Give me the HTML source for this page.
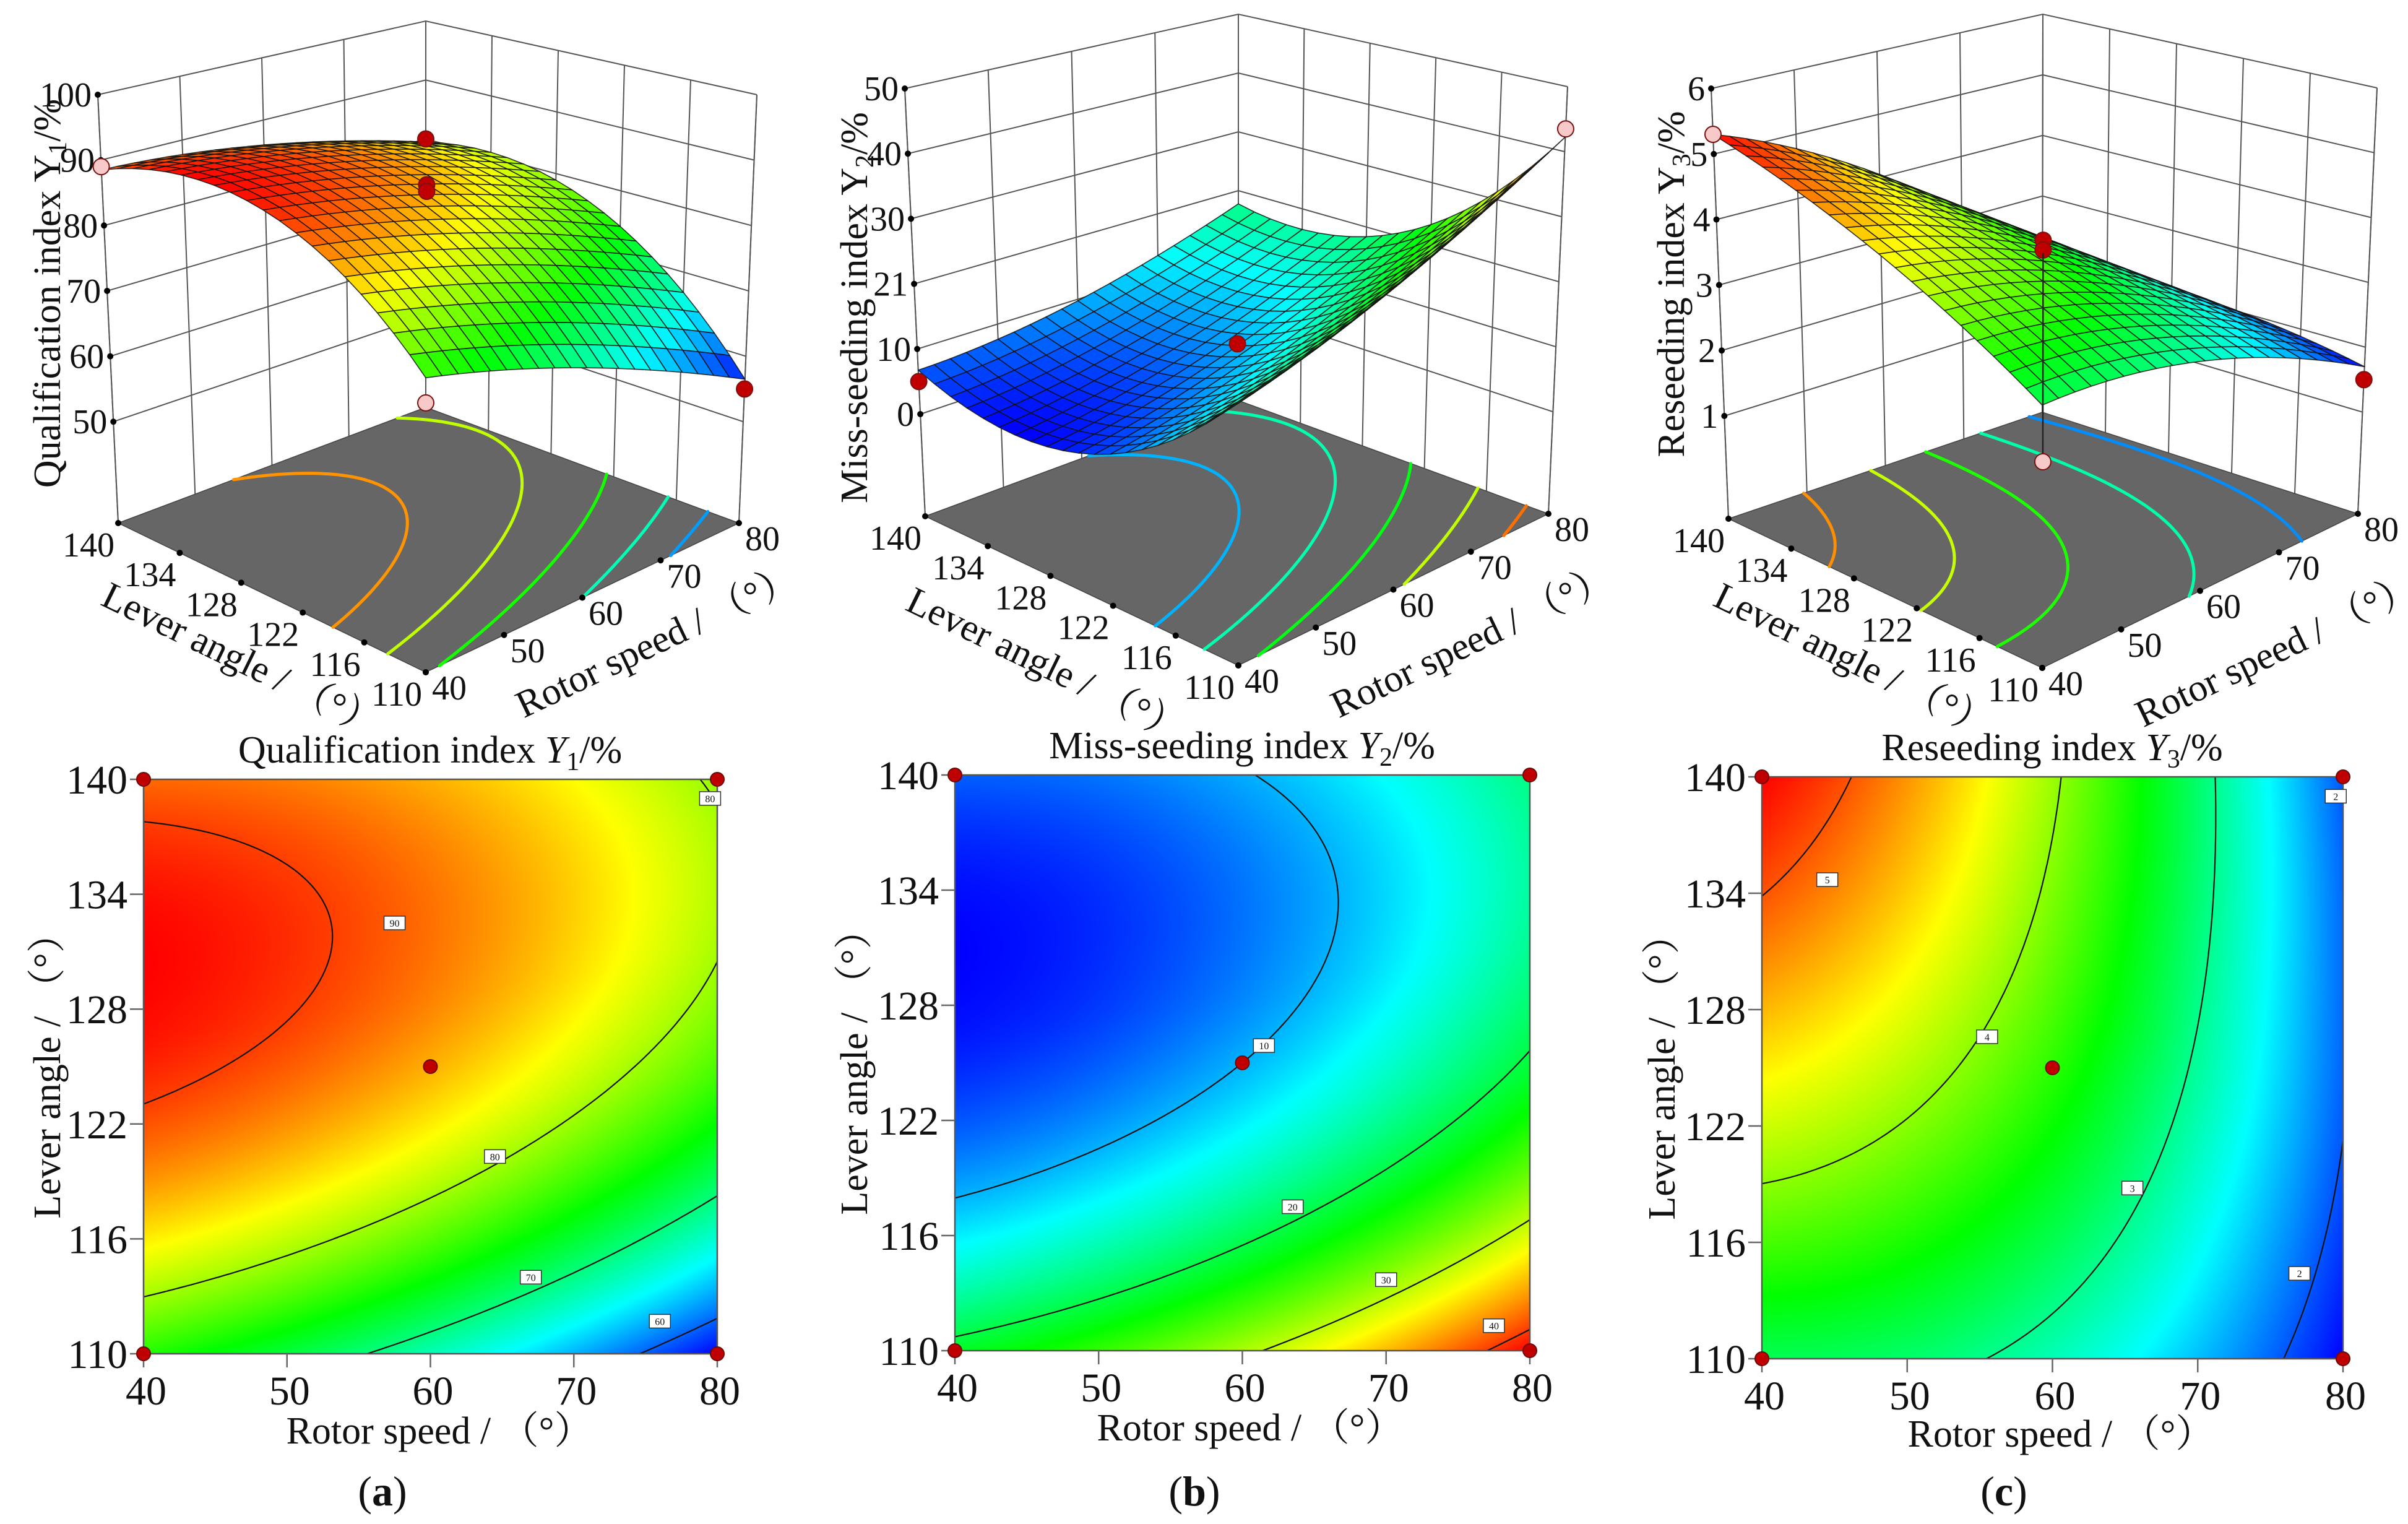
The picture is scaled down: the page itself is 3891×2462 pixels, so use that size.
<!DOCTYPE html>
<html><head><meta charset="utf-8">
<style>
html,body{margin:0;padding:0;background:#fff;}
#wrap{position:relative;width:3891px;height:2462px;overflow:hidden;background:#fff;}
canvas{position:absolute;}
svg{position:absolute;left:0;top:0;}
text{font-family:"Liberation Serif","Noto Serif CJK SC",serif;fill:#111;}
</style></head>
<body>
<div id="wrap">
<canvas id="cvA" style="left:232px;top:1259px;width:927px;height:928px" width="927" height="928"></canvas>
<canvas id="cvB" style="left:1543px;top:1252px;width:929px;height:930px" width="929" height="930"></canvas>
<canvas id="cvC" style="left:2847px;top:1255px;width:939px;height:940px" width="939" height="940"></canvas>
<svg id="fig" width="3891" height="2462" viewBox="0 0 3891 2462">
<g id="layer3d"></g>
<g id="layer2d"></g>
<g font-size="62">
<text x="695" y="1232" text-anchor="middle">Qualification index <tspan font-style="italic">Y</tspan><tspan font-size="42" dy="12">1</tspan><tspan dy="-12">/%</tspan></text>
<text x="2007" y="1225" text-anchor="middle">Miss-seeding index <tspan font-style="italic">Y</tspan><tspan font-size="42" dy="12">2</tspan><tspan dy="-12">/%</tspan></text>
<text x="3316" y="1228" text-anchor="middle">Reseeding index <tspan font-style="italic">Y</tspan><tspan font-size="42" dy="12">3</tspan><tspan dy="-12">/%</tspan></text>
<text x="710" y="2332" text-anchor="middle">Rotor speed / （°）</text>
<text x="2020" y="2327" text-anchor="middle">Rotor speed / （°）</text>
<text x="3330" y="2337" text-anchor="middle">Rotor speed / （°）</text>
<text transform="translate(97,1723) rotate(-90)" text-anchor="middle">Lever angle / （°）</text>
<text transform="translate(1401,1717) rotate(-90)" text-anchor="middle">Lever angle / （°）</text>
<text transform="translate(2706,1725) rotate(-90)" text-anchor="middle">Lever angle / （°）</text>
<text x="618" y="2432" text-anchor="middle" font-size="68">(<tspan font-weight="bold">a</tspan>)</text>
<text x="1930" y="2432" text-anchor="middle" font-size="68">(<tspan font-weight="bold">b</tspan>)</text>
<text x="3238" y="2432" text-anchor="middle" font-size="68">(<tspan font-weight="bold">c</tspan>)</text>
<text transform="translate(97,474) rotate(-90)" text-anchor="middle">Qualification index Y<tspan font-size="42" dy="10">1</tspan><tspan dy="-10">/%</tspan></text>
<text transform="translate(1401,497) rotate(-90)" text-anchor="middle">Miss-seeding index Y<tspan font-size="42" dy="10">2</tspan><tspan dy="-10">/%</tspan></text>
<text transform="translate(2721,459) rotate(-90)" text-anchor="middle">Reseeding index Y<tspan font-size="42" dy="10">3</tspan><tspan dy="-10">/%</tspan></text>
<text transform="translate(390,1066) rotate(26)" text-anchor="middle" dominant-baseline="central">Lever angle / （°）</text>
<text transform="translate(1061,1036) rotate(-25.5)" text-anchor="middle" dominant-baseline="central">Rotor speed / （°）</text>
<text transform="translate(1690,1074) rotate(26)" text-anchor="middle" dominant-baseline="central">Lever angle / （°）</text>
<text transform="translate(2378,1036) rotate(-25.5)" text-anchor="middle" dominant-baseline="central">Rotor speed / （°）</text>
<text transform="translate(2995,1067) rotate(26)" text-anchor="middle" dominant-baseline="central">Lever angle / （°）</text>
<text transform="translate(3678,1051) rotate(-25.5)" text-anchor="middle" dominant-baseline="central">Rotor speed / （°）</text>
</g>
</svg>
</div>
<script>
// ---- data ----
const speedTicks = [40, 50, 60, 70, 80];
const angleTicks = [110, 116, 122, 128, 134, 140];
// quadratic model coefficients in coded units: b0, b1(speed), b2(angle), b12, b11, b22
const coefY1 = [86, -7, 9, 2.5, -2, -9];
const coefY2 = [10, 8, -9.75, -2.5, 2.5, 9.5];
const coefY3 = [3.65, -1.2, 0.6, -0.45, -0.4, -0.2];
const zTicksY1 = [50, 60, 70, 80, 90, 100];
const zTicksY2 = [0, 10, 20, 30, 40, 50];
const zTickLabelsY2 = ['0', '10', '21', '30', '40', '50'];
const zTicksY3 = [1, 2, 3, 4, 5, 6];
const floorLevelsY1 = [87, 81, 75, 68, 62];
const floorLevelsY2 = [10, 16, 22, 30, 38];
const floorLevelsY3 = [4.8, 4.2, 3.6, 2.9, 2.2];
const contourLevelsY1 = [60, 70, 80, 90];
const contourLevelsY2 = [10, 20, 30, 40];
const contourLevelsY3 = [2, 3, 4, 5];
const labelSpeedY1 = [57.5, 64.5, 67, 76, 79.5];
const labelAngleY1 = [132.5, 120.3, 114, 111.7, 139];
const labelTextY1 = ['90', '80', '70', '60', '80'];
const labelSpeedY2 = [61.5, 63.5, 70, 77.5];
const labelAngleY2 = [125.9, 117.5, 113.7, 111.3];
const labelTextY2 = ['10', '20', '30', '40'];
const labelSpeedY3 = [44.5, 55.5, 65.5, 77, 79.5];
const labelAngleY3 = [134.7, 126.6, 118.8, 114.4, 139];
const labelTextY3 = ['5', '4', '3', '2', '2'];
const designSpeed = [40, 80, 40, 80, 60];
const designAngle = [110, 110, 140, 140, 125];
// observed design points on 3D plots: speed, angle, value, above(1)/below(0)
const ptSpeedY1 = [40, 80, 60, 60, 40, 80];
const ptAngleY1 = [140, 140, 125, 125, 110, 110];
const ptValueY1 = [89, 80, 87.5, 86.5, 72, 55];
const ptAboveY1 = [0, 1, 1, 1, 0, 1];
const ptSpeedY2 = [40, 80, 60];
const ptAngleY2 = [140, 110, 125];
const ptValueY2 = [5, 43.5, 12];
const ptAboveY2 = [1, 0, 1];
const ptSpeedY3 = [40, 80, 60, 60, 60];
const ptAngleY3 = [140, 110, 125, 125, 125];
const ptValueY3 = [5.3, 1.5, 3.85, 3.7, 0.45];
const ptAboveY3 = [0, 1, 1, 1, 0];

// ---- helpers ----
const NS = 'http://www.w3.org/2000/svg';
function mk(tag, attrs, parent) {
  const e = document.createElementNS(NS, tag);
  for (const k in attrs) e.setAttribute(k, attrs[k]);
  parent.appendChild(e);
  return e;
}
function model(c, s, a) {
  const x1 = (s - 60) / 20, x2 = (a - 125) / 15;
  return c[0] + c[1]*x1 + c[2]*x2 + c[3]*x1*x2 + c[4]*x1*x1 + c[5]*x2*x2;
}
function cmap(t) {
  t = Math.max(0, Math.min(1, t));
  const st = [[0,0,255],[0,255,255],[0,255,0],[255,255,0],[255,0,0]];
  const p = t * 4, i = Math.min(3, Math.floor(p)), f = p - i;
  return [0,1,2].map(k => Math.round(st[i][k] + (st[i+1][k] - st[i][k]) * f));
}
function rgb(c) { return 'rgb(' + c[0] + ',' + c[1] + ',' + c[2] + ')'; }
function range(c) {
  let mn = 1e9, mx = -1e9;
  for (let i = 0; i <= 40; i++) for (let j = 0; j <= 40; j++) {
    const v = model(c, 40 + i, 110 + j * 0.75);
    mn = Math.min(mn, v); mx = Math.max(mx, v);
  }
  return [mn, mx];
}
function contourSegs(f, level, n) {
  const segs = [];
  const val = [];
  for (let i = 0; i <= n; i++) { val.push([]); for (let j = 0; j <= n; j++) val[i].push(f(i / n, j / n)); }
  for (let i = 0; i < n; i++) for (let j = 0; j < n; j++) {
    const c = [[i, j], [i + 1, j], [i + 1, j + 1], [i, j + 1]];
    const pts = [];
    for (let k = 0; k < 4; k++) {
      const p = c[k], q = c[(k + 1) % 4];
      const a = val[p[0]][p[1]] - level, b = val[q[0]][q[1]] - level;
      if ((a < 0) !== (b < 0)) {
        const t = a / (a - b);
        pts.push([(p[0] + (q[0] - p[0]) * t) / n, (p[1] + (q[1] - p[1]) * t) / n]);
      }
    }
    if (pts.length >= 2) segs.push([pts[0], pts[1]]);
    if (pts.length === 4) segs.push([pts[2], pts[3]]);
  }
  return segs;
}

// ---- 3D surface plots ----
const layer3d = document.getElementById('layer3d');
function surface3d(cfg) {
  const g = mk('g', {}, layer3d);
  
  
  const P = cfg.P;
  const hL = ((P.L[1] - P.Lt[1]) + (P.R[1] - P.Rt[1])) / 2, hB = P.B[1] - P.Bt[1];
  const Ft = [P.F[0], P.F[1] - (2 * hL - hB)];
  const bil = (A, Bq, C, D, u, v) => [
    A[0]*(1-u)*(1-v) + Bq[0]*u*(1-v) + C[0]*(1-u)*v + D[0]*u*v,
    A[1]*(1-u)*(1-v) + Bq[1]*u*(1-v) + C[1]*(1-u)*v + D[1]*u*v];
  const proj = (u, v, z) => {
    const t = (z - cfg.zf) / (cfg.zt - cfg.zf);
    const fl = bil(P.F, P.R, P.L, P.B, u, v), tp = bil(Ft, P.Rt, P.Lt, P.Bt, u, v);
    return [fl[0] + (tp[0] - fl[0]) * t, fl[1] + (tp[1] - fl[1]) * t];
  };
  const uS = s => (s - 40) / 40, vA = a => (a - 110) / 30;
  const f = (u, v) => model(cfg.coef, 40 + 40 * u, 110 + 30 * v);
  const rg = range(cfg.coef);
  const pt = p => p[0].toFixed(1) + ',' + p[1].toFixed(1);
  const walls = mk('g', {stroke: '#555', 'stroke-width': 2, fill: 'none'}, g);
  
  
  cfg.zTicks.forEach(z => {
    mk('polyline', {points: [proj(0,1,z), proj(1,1,z), proj(1,0,z)].map(pt).join(' ')}, walls);
  });
  speedTicks.forEach(s => {
    mk('line', {x1: proj(uS(s),1,cfg.zf)[0], y1: proj(uS(s),1,cfg.zf)[1], x2: proj(uS(s),1,cfg.zt)[0], y2: proj(uS(s),1,cfg.zt)[1]}, walls);
  });
  angleTicks.forEach(a => {
    mk('line', {x1: proj(1,vA(a),cfg.zf)[0], y1: proj(1,vA(a),cfg.zf)[1], x2: proj(1,vA(a),cfg.zt)[0], y2: proj(1,vA(a),cfg.zt)[1]}, walls);
  });
  mk('line', {x1: proj(0,1,cfg.zf)[0], y1: proj(0,1,cfg.zf)[1], x2: proj(0,1,cfg.zt)[0], y2: proj(0,1,cfg.zt)[1]}, walls);
  mk('line', {x1: proj(1,0,cfg.zf)[0], y1: proj(1,0,cfg.zf)[1], x2: proj(1,0,cfg.zt)[0], y2: proj(1,0,cfg.zt)[1]}, walls);
  const floor = mk('polygon', {points: [proj(0,0,cfg.zf), proj(1,0,cfg.zf), proj(1,1,cfg.zf), proj(0,1,cfg.zf)].map(pt).join(' '), fill: '#666', stroke: '#444', 'stroke-width': 1.5}, g);
  
  
  cfg.floorLevels.forEach(lv => {
    const segs = contourSegs(f, lv, 80);
    let d = '';
    segs.forEach(sg => { const a = proj(sg[0][0], sg[0][1], cfg.zf), b = proj(sg[1][0], sg[1][1], cfg.zf); d += 'M' + pt(a) + 'L' + pt(b); });
    const p = mk('path', {d: d, stroke: rgb(cmap((lv - rg[0]) / (rg[1] - rg[0]))), 'stroke-width': 5, fill: 'none', 'stroke-linecap': 'round'}, g);
    
    
  });
  const ax = mk('g', {'font-size': 56}, g);
  
  
  cfg.zTicks.forEach((z, i) => {
    const p = proj(0, 1, z);
    mk('circle', {cx: p[0], cy: p[1], r: 5, fill: '#000'}, ax);
    const t = mk('text', {x: p[0] - 10, y: p[1] + 19, 'text-anchor': 'end'}, ax);
    t.textContent = cfg.zLabels ? cfg.zLabels[i] : String(z);
  });
  angleTicks.forEach(a => {
    const p = proj(0, vA(a), cfg.zf);
    mk('circle', {cx: p[0], cy: p[1], r: 5, fill: '#000'}, ax);
    const t = mk('text', {x: p[0] - 6, y: p[1] + 54, 'text-anchor': 'end'}, ax);
    t.textContent = String(a);
  });
  speedTicks.forEach(s => {
    const p = proj(uS(s), 0, cfg.zf);
    mk('circle', {cx: p[0], cy: p[1], r: 5, fill: '#000'}, ax);
    const t = mk('text', {x: p[0] + 10, y: p[1] + 44, 'text-anchor': 'start'}, ax);
    t.textContent = String(s);
  });
  const n = 20, quads = [];
  for (let i = 0; i < n; i++) for (let j = 0; j < n; j++) quads.push([i, j]);
  quads.sort((a, b) => (b[0] + b[1]) - (a[0] + a[1]));
  const surf = mk('g', {stroke: '#111', 'stroke-width': 1.6, 'stroke-opacity': 0.85, 'stroke-linejoin': 'round'}, g);
  
  
  quads.forEach(q => {
    const u0 = q[0] / n, u1 = (q[0] + 1) / n, v0 = q[1] / n, v1 = (q[1] + 1) / n;
    const cs = [[u0, v0], [u1, v0], [u1, v1], [u0, v1]];
    const pts = cs.map(c => pt(proj(c[0], c[1], f(c[0], c[1])))).join(' ');
    const vm = f((u0 + u1) / 2, (v0 + v1) / 2);
    const col = cmap((vm - rg[0]) / (rg[1] - rg[0]));
    mk('polygon', {points: pts, fill: rgb(col)}, surf);
  });
  cfg.ptS.forEach((s, i) => {
    const u = uS(s), v = vA(cfg.ptA[i]);
    const p = proj(u, v, cfg.ptV[i]);
    if (!cfg.ptUp[i] && cfg.drop && i === cfg.ptS.length - 1) {
      const q = proj(u, v, f(u, v));
      mk('line', {x1: p[0], y1: p[1], x2: q[0], y2: q[1], stroke: '#222', 'stroke-width': 2.5}, g);
    }
    const c = mk('circle', {cx: p[0], cy: p[1], r: 13, fill: cfg.ptUp[i] ? '#c00000' : '#f7c9c9', stroke: '#7a1010', 'stroke-width': 2}, g);
    
    
  });
}

surface3d({name: 'surface-plot-a', coef: coefY1, zf: 34.5, zt: 100, zTicks: zTicksY1, floorLevels: floorLevelsY1,
  P: {F: [688, 1086], R: [1194, 845], L: [191, 845], B: [688, 658], Lt: [158, 153], Rt: [1223, 153], Bt: [688, 34]},
  ptS: ptSpeedY1, ptA: ptAngleY1, ptV: ptValueY1, ptUp: ptAboveY1});
surface3d({name: 'surface-plot-b', coef: coefY2, zf: -15.69, zt: 50, zTicks: zTicksY2, zLabels: zTickLabelsY2, floorLevels: floorLevelsY2,
  P: {F: [2001, 1075], R: [2502, 830], L: [1495, 834], B: [2001, 647], Lt: [1462, 143], Rt: [2533, 140], Bt: [2001, 23]},
  ptS: ptSpeedY2, ptA: ptAngleY2, ptV: ptValueY2, ptUp: ptAboveY2});
surface3d({name: 'surface-plot-c', coef: coefY3, zf: -0.569, zt: 6, zTicks: zTicksY3, floorLevels: floorLevelsY3, drop: true,
  P: {F: [3300, 1079], R: [3810, 830], L: [2793, 838], B: [3300, 666], Lt: [2765, 143], Rt: [3841, 142], Bt: [3301, 23]},
  ptS: ptSpeedY3, ptA: ptAngleY3, ptV: ptValueY3, ptUp: ptAboveY3});

// ---- 2D contour plots ----
const layer2d = document.getElementById('layer2d');
function contour2d(cfg) {
  const g = mk('g', {}, layer2d);
  
  
  const x0 = cfg.x0, x1 = cfg.x1, y0 = cfg.y0, y1 = cfg.y1;
  const xs = s => x0 + (s - 40) / 40 * (x1 - x0);
  const ys = a => y1 - (a - 110) / 30 * (y1 - y0);
  const rg = range(cfg.coef);
  const cv = document.getElementById(cfg.canvas);
  const ctx = cv.getContext('2d');
  const W = cv.width, H = cv.height, img = ctx.createImageData(W, H);
  for (let j = 0; j < H; j++) for (let i = 0; i < W; i++) {
    const v = model(cfg.coef, 40 + 40 * (i + 0.5) / W, 140 - 30 * (j + 0.5) / H);
    const c = cmap((v - rg[0]) / (rg[1] - rg[0]));
    const k = (j * W + i) * 4;
    img.data[k] = c[0]; img.data[k + 1] = c[1]; img.data[k + 2] = c[2]; img.data[k + 3] = 255;
  }
  ctx.putImageData(img, 0, 0);
  const f = (u, v) => model(cfg.coef, 40 + 40 * u, 110 + 30 * v);
  cfg.levels.forEach(lv => {
    const segs = contourSegs(f, lv, 120);
    let d = '';
    segs.forEach(sg => {
      d += 'M' + xs(40 + 40 * sg[0][0]).toFixed(1) + ',' + ys(110 + 30 * sg[0][1]).toFixed(1) +
           'L' + xs(40 + 40 * sg[1][0]).toFixed(1) + ',' + ys(110 + 30 * sg[1][1]).toFixed(1);
    });
    const p = mk('path', {d: d, stroke: '#111', 'stroke-width': 2.2, fill: 'none'}, g);
    
    
  });
  const fr = mk('rect', {x: x0, y: y0, width: x1 - x0, height: y1 - y0, fill: 'none', stroke: '#555', 'stroke-width': 2.5}, g);
  
  
  cfg.lblS.forEach((s, i) => {
    const lg = mk('g', {}, g);
    
    
    const cx = xs(s), cy = ys(cfg.lblA[i]);
    mk('rect', {x: cx - 17, y: cy - 11, width: 34, height: 22, fill: '#fff', stroke: '#333', 'stroke-width': 1.5}, lg);
    const t = mk('text', {x: cx, y: cy + 6, 'text-anchor': 'middle', 'font-size': 16, 'font-family': 'Liberation Sans, sans-serif'}, lg);
    t.textContent = cfg.lblT[i];
  });
  const ax = mk('g', {'font-size': 66}, g);
  
  
  angleTicks.forEach(a => {
    mk('line', {x1: x0 - 22, y1: ys(a), x2: x0, y2: ys(a), stroke: '#666', 'stroke-width': 2.5}, ax);
    const t = mk('text', {x: x0 - 26, y: ys(a) + 23, 'text-anchor': 'end'}, ax);
    t.textContent = String(a);
  });
  speedTicks.forEach(s => {
    mk('line', {x1: xs(s), y1: y1, x2: xs(s), y2: y1 + 22, stroke: '#666', 'stroke-width': 2.5}, ax);
    const t = mk('text', {x: xs(s) + 4, y: y1 + 82, 'text-anchor': 'middle'}, ax);
    t.textContent = String(s);
  });
  designSpeed.forEach((s, i) => {
    const c = mk('circle', {cx: xs(s), cy: ys(designAngle[i]), r: 11, fill: '#c00000', stroke: '#6a0a0a', 'stroke-width': 2}, g);
    
    
  });
}
contour2d({name: 'contour-plot-a', coef: coefY1, canvas: 'cvA', x0: 232, x1: 1159, y0: 1259, y1: 2187, levels: contourLevelsY1, lblS: labelSpeedY1, lblA: labelAngleY1, lblT: labelTextY1});
contour2d({name: 'contour-plot-b', coef: coefY2, canvas: 'cvB', x0: 1543, x1: 2472, y0: 1252, y1: 2182, levels: contourLevelsY2, lblS: labelSpeedY2, lblA: labelAngleY2, lblT: labelTextY2});
contour2d({name: 'contour-plot-c', coef: coefY3, canvas: 'cvC', x0: 2847, x1: 3786, y0: 1255, y1: 2195, levels: contourLevelsY3, lblS: labelSpeedY3, lblA: labelAngleY3, lblT: labelTextY3});
</script>
</body></html>
